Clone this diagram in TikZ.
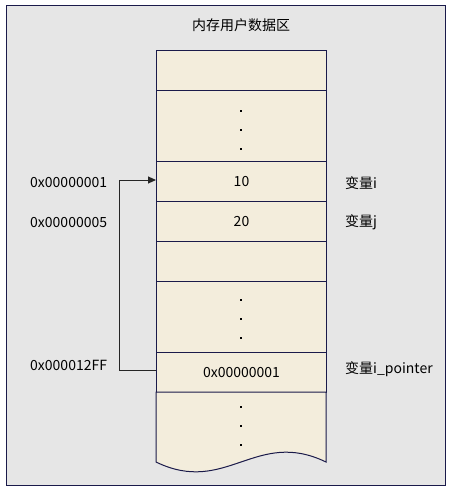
\documentclass[tikz,border=0pt]{standalone}
\usepackage{fontspec}
\setmainfont{Noto Sans CJK SC}
\usetikzlibrary{arrows.meta}
\definecolor{bgc}{HTML}{E6E6E6}
\definecolor{cellc}{HTML}{F3EDDC}
\definecolor{edgec}{HTML}{1A1A4A}
\begin{document}
\begin{tikzpicture}[x=1pt,y=-1pt,
  cell/.style={draw=edgec,fill=cellc,line width=1pt,minimum width=170pt,inner sep=0pt,anchor=north west,font=\fontsize{14}{16}\selectfont},
  lbl/.style={font=\fontsize{14}{16}\selectfont,inner sep=0pt},
  dotc/.style={fill=black,inner sep=0pt,minimum size=1.8pt,shape=rectangle},
  ptr/.style={draw=black!85,line width=1pt,-{Triangle[length=8pt,width=7pt]}}]
\useasboundingbox (0,0) rectangle (454,493);
\node[draw=edgec,fill=bgc,line width=1pt,minimum width=439pt,minimum height=480pt,anchor=north west,inner sep=0pt] (frame) at (6,5) {};
\node[lbl] (title) at (241,25) {内存用户数据区};
\node[cell,minimum height=40pt] (c1) at (156,50) {};
\node[cell,minimum height=71pt] (c2) at (156,90) {};
\node[cell,minimum height=40pt] (c3) at (156,161) {10};
\node[cell,minimum height=40pt] (c4) at (156,201) {20};
\node[cell,minimum height=40pt] (c5) at (156,241) {};
\node[cell,minimum height=71pt] (c6) at (156,281) {};
\node[cell,minimum height=40pt] (c7) at (156,352) {0x00000001};
\draw[draw=edgec,fill=cellc,line width=1pt] (156,462) -- (156,392) -- (326,392) -- (326,462)
  .. controls (256,428) and (226,496) .. (156,462) -- cycle;
\coordinate (c8) at (241,392);
\foreach \y in {110.7,129.7,148.7,300,319,338,406.7,426,445}
  \node[dotc] at (241,\y) {};
\node[lbl,anchor=west] (a1) at (30,183) {0x00000001};
\node[lbl,anchor=west] (a2) at (30,223) {0x00000005};
\node[lbl,anchor=west] (a3) at (30,365) {0x000012FF};
\node[lbl,anchor=west] (v1) at (345,183) {变量i};
\node[lbl,anchor=west] (v2) at (345,222) {变量j};
\node[lbl,anchor=west] (v3) at (345,369) {变量i\_pointer};
\draw[ptr] ([yshift=2pt]c7.west) -- ++(-37,0) |- ([yshift=1.5pt]c3.west);
\end{tikzpicture}
\end{document}
